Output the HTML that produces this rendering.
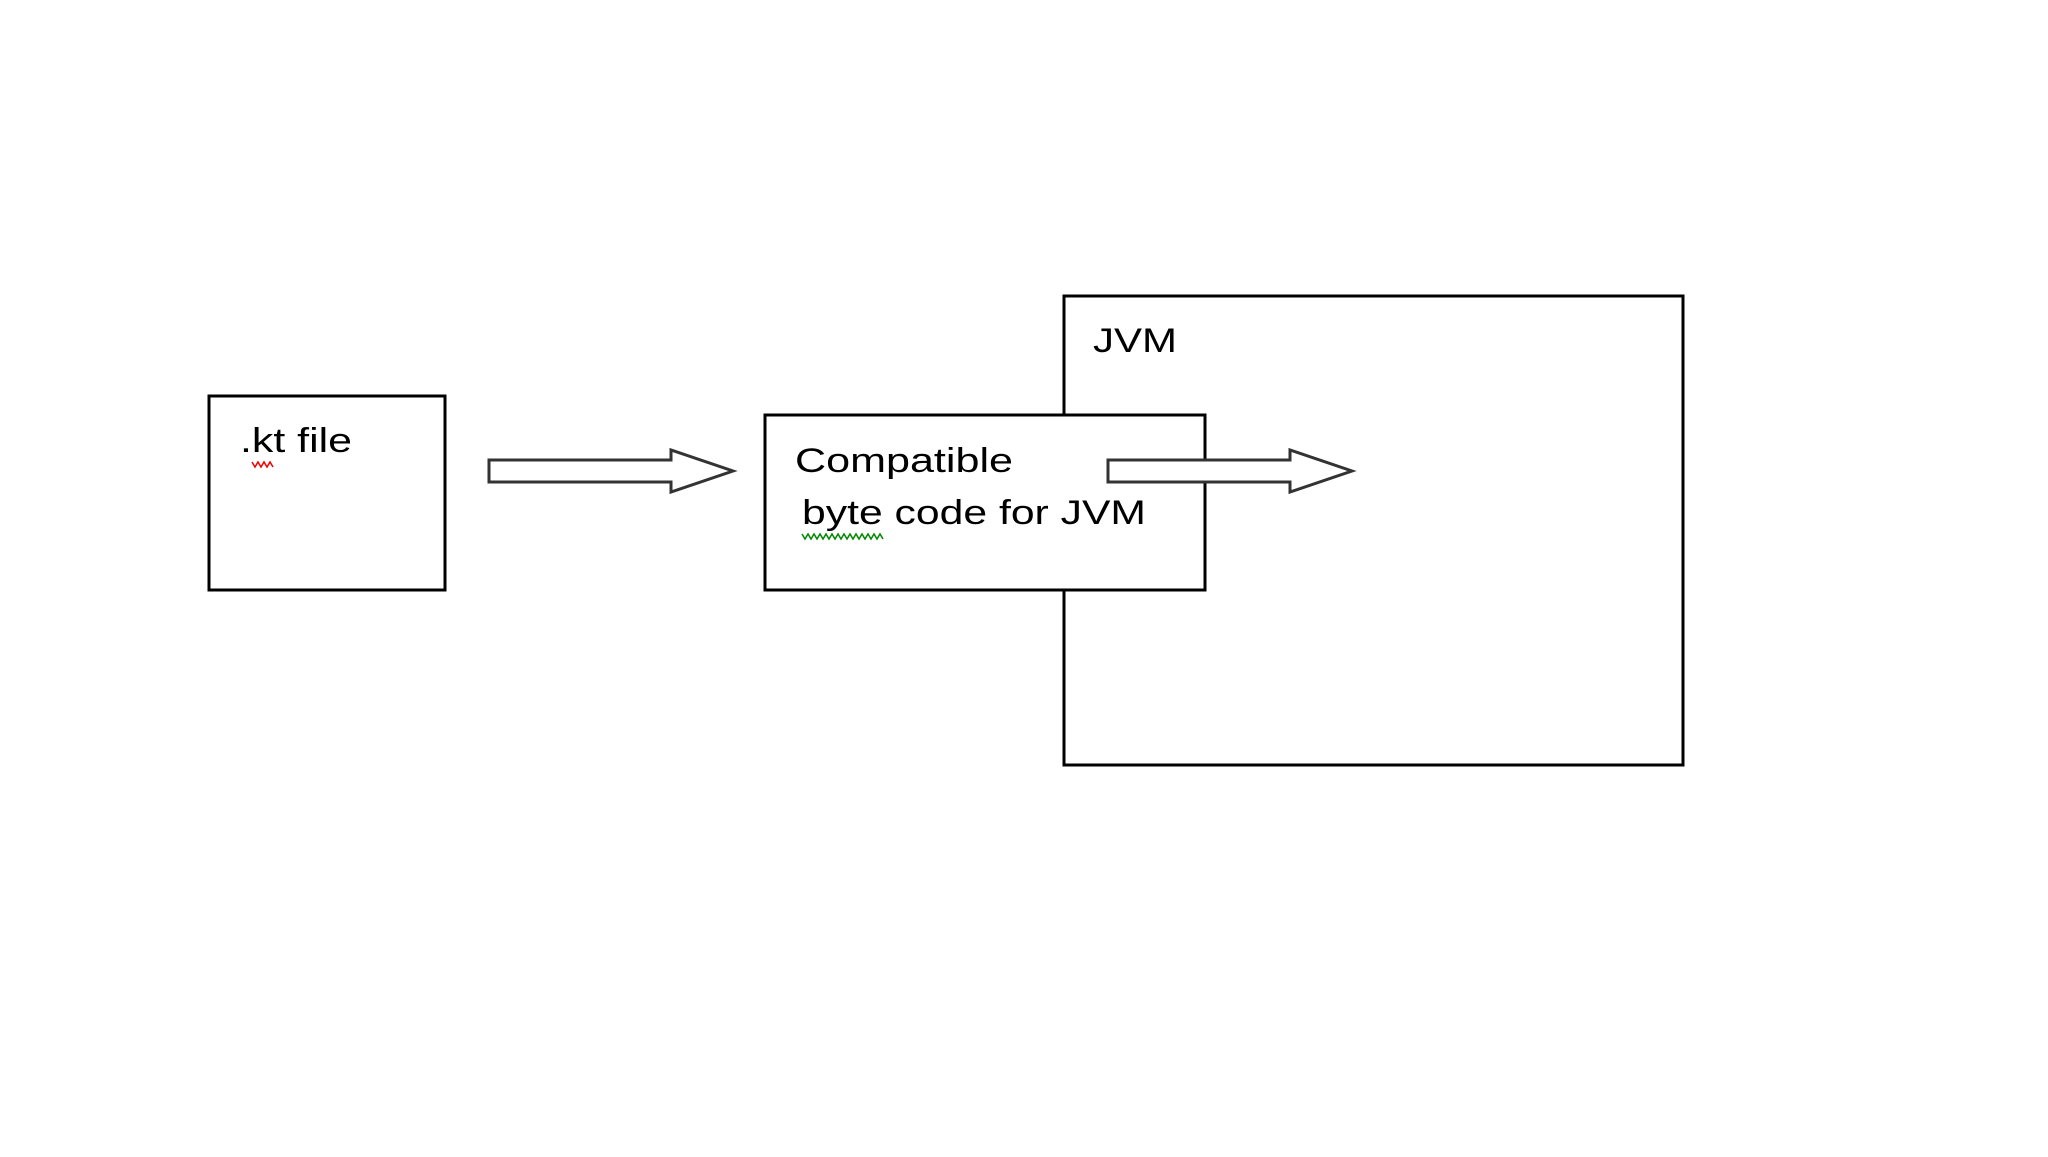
<!DOCTYPE html>
<html><head><meta charset="utf-8"><style>html,body{margin:0;padding:0;background:#fff}</style></head>
<body>
<svg width="2048" height="1152" viewBox="0 0 2048 1152" xmlns="http://www.w3.org/2000/svg" font-family="Liberation Sans, sans-serif">
<rect width="2048" height="1152" fill="#fff"/>
<rect x="1064" y="296" width="619" height="469" fill="#fff" stroke="#000" stroke-width="3"/>
<rect x="209" y="396" width="236" height="194" fill="#fff" stroke="#000" stroke-width="3"/>
<rect x="765" y="415" width="440" height="175" fill="#fff" stroke="#000" stroke-width="3"/>
<text x="240" y="452" font-size="34" textLength="112" lengthAdjust="spacingAndGlyphs">.kt file</text>
<path d="M252 462 l3 5 l3 -5 l3 5 l3 -5 l3 5 l3 -5 l3 5" fill="none" stroke="#e00" stroke-width="1.5"/>
<text x="1093" y="352" font-size="34" textLength="84" lengthAdjust="spacingAndGlyphs">JVM</text>
<text x="795" y="472" font-size="34" textLength="218" lengthAdjust="spacingAndGlyphs">Compatible</text>
<text x="802" y="524" font-size="34" textLength="344" lengthAdjust="spacingAndGlyphs">byte code for JVM</text>
<path d="M802 534 l3 5 l3 -5 l3 5 l3 -5 l3 5 l3 -5 l3 5 l3 -5 l3 5 l3 -5 l3 5 l3 -5 l3 5 l3 -5 l3 5 l3 -5 l3 5 l3 -5 l3 5 l3 -5 l3 5 l3 -5 l3 5 l3 -5 l3 5 l3 -5 l3 5" fill="none" stroke="#080" stroke-width="1.5"/>
<path d="M489 460 H671 V450 L733 471 L671 492 V482 H489 Z" fill="#fff" stroke="#333" stroke-width="3"/>
<path d="M1108 460 H1290 V450 L1352 471 L1290 492 V482 H1108 Z" fill="#fff" stroke="#333" stroke-width="3"/>
</svg>
</body></html>
